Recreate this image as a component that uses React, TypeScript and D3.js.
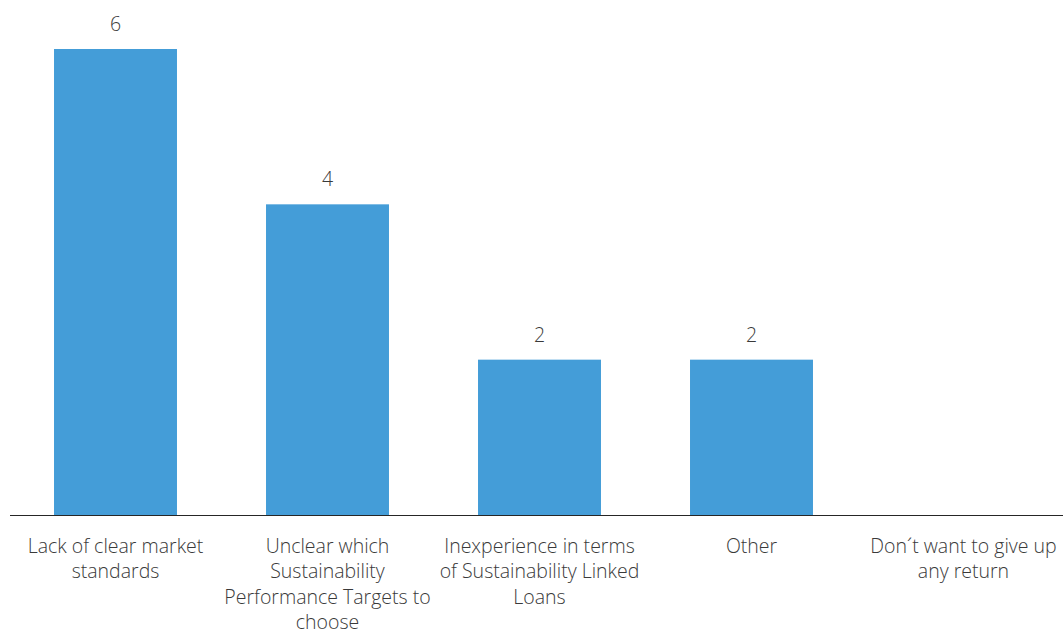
import React from "react";
import * as d3 from "d3";

const categories: string[] = [
  "Lack of clear market\nstandards",
  "Unclear which\nSustainability\nPerformance Targets to\nchoose",
  "Inexperience in terms\nof Sustainability Linked\nLoans",
  "Other",
  "Don´t want to give up\nany return",
];
const counts: number[] = [6, 4, 2, 2, 0];

const WIDTH = 1063;
const HEIGHT = 631;
const BASE_Y = 515;
const TOP_Y = 49;
const BAR_COLOR = "#449dd8";
const TEXT_COLOR = "#3a3a3a";
const FONT = "'Open Sans', 'Segoe UI', sans-serif";
const FONT_SIZE = 19.5;

export default function App() {
  const x = d3
    .scaleBand<string>()
    .domain(categories)
    .range([9.5, 1069.5])
    .paddingInner(0.42)
    .paddingOuter(0.21);
  const y = d3.scaleLinear().domain([0, 6]).range([BASE_Y, TOP_Y]);

  return (
    <svg
      width={WIDTH}
      height={HEIGHT}
      style={{ position: "absolute", left: 0, top: 0, background: "#fff" }}
      fontFamily={FONT}
    >
      {categories.map((c, i) => {
        const v = counts[i];
        const x0 = x(c)!;
        const cx = x0 + x.bandwidth() / 2;
        return (
          <g key={c}>
            {v > 0 && (
              <>
                <rect
                  x={x0}
                  y={y(v)}
                  width={x.bandwidth()}
                  height={y(0) - y(v)}
                  fill={BAR_COLOR}
                />
                <text
                  x={cx}
                  y={y(v) - 18}
                  textAnchor="middle"
                  fontSize={FONT_SIZE}
                  fontWeight={300}
                  fill={TEXT_COLOR}
                >
                  {d3.format("d")(v)}
                </text>
              </>
            )}
            <text
              x={cx}
              y={BASE_Y + 38}
              textAnchor="middle"
              fontSize={FONT_SIZE}
              fontWeight={300}
              fill={TEXT_COLOR}
            >
              {c.split("\n").map((line, j) => (
                <tspan key={j} x={cx} dy={j === 0 ? 0 : 25.3}>
                  {line}
                </tspan>
              ))}
            </text>
          </g>
        );
      })}
      <line
        x1={10}
        x2={WIDTH}
        y1={BASE_Y + 0.5}
        y2={BASE_Y + 0.5}
        stroke="#262626"
        strokeWidth={1}
      />
    </svg>
  );
}
